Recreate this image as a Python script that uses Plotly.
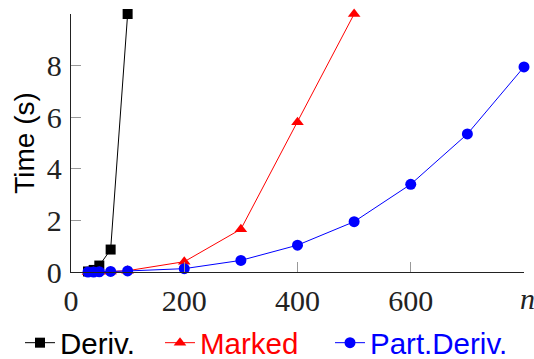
import plotly.graph_objects as go

# Data
n_deriv = [30, 40, 50, 70, 100]
t_deriv = [0.02, 0.08, 0.25, 0.87, 10.0]

n_marked = [30, 40, 50, 70, 100, 200, 300, 400, 500]
t_marked = [0.0, 0.0, 0.01, 0.02, 0.05, 0.40, 1.66, 5.8, 10.0]

n_part = [30, 40, 50, 70, 100, 200, 300, 400, 500, 600, 700, 800]
t_part = [0.0, 0.0, 0.01, 0.02, 0.04, 0.13, 0.45, 1.04, 1.95, 3.4, 5.35, 7.95]

x_ticks = [0, 200, 400, 600]
y_ticks = [0, 2, 4, 6, 8]

W, H = 534, 359
ML, MR, MT, MB = 71, 10, 14, 87
PW, PH = W - ML - MR, H - MT - MB
SERIF = "Liberation Serif"
SANS = "Liberation Sans"

fig = go.Figure()
fig.add_trace(go.Scatter(
    x=n_deriv, y=t_deriv, name="Deriv.", mode="lines+markers",
    line=dict(color="black", width=1),
    marker=dict(symbol="square", size=10, color="black"),
    legend="legend", showlegend=True, cliponaxis=False))
fig.add_trace(go.Scatter(
    x=n_marked, y=t_marked, name="Marked", mode="lines+markers",
    line=dict(color="#ff0000", width=1),
    marker=dict(symbol="triangle-up", size=11, color="#ff0000"),
    legend="legend2", showlegend=True, cliponaxis=False))
fig.add_trace(go.Scatter(
    x=n_part, y=t_part, name="Part.Deriv.", mode="lines+markers",
    line=dict(color="#0000ff", width=1),
    marker=dict(symbol="circle", size=11, color="#0000ff"),
    legend="legend3", showlegend=True, cliponaxis=False))

axis_common = dict(
    showgrid=False, zeroline=False, showline=True,
    linecolor="#222222", linewidth=1.3,
    ticks="inside", ticklen=10, tickwidth=1, tickcolor="#999999",
    tickfont=dict(family=SERIF, size=30, color="#222222"),
)

fig.update_xaxes(range=[0, 800], tickvals=x_ticks, ticktext=[str(v) for v in x_ticks],
                 ticklabelstandoff=2, **axis_common)
fig.update_yaxes(range=[0, 10], tickvals=y_ticks, ticktext=[str(v) for v in y_ticks],
                 ticklabelstandoff=2,
                 title=dict(text="Time (s)", font=dict(family=SANS, size=28, color="black"),
                            standoff=4),
                 **axis_common)

def leg(xpx, color):
    return dict(visible=True, orientation="h", xref="container", yref="container",
                x=xpx / W, y=1 - 343 / H, xanchor="left", yanchor="middle",
                bgcolor="rgba(0,0,0,0)", borderwidth=0,
                font=dict(family=SANS, size=29.5, color=color))

fig.update_layout(
    width=W, height=H,
    showlegend=True,
    margin=dict(l=ML, r=MR, t=MT, b=MB, autoexpand=False),
    paper_bgcolor="white", plot_bgcolor="white",
    legend=leg(20, "black"), legend2=leg(160, "#ff0000"), legend3=leg(330, "#0000ff"),
    annotations=[dict(text="<i>n</i>", xref="paper", yref="paper",
                      x=(527 - ML) / PW, y=(H - MB - 298) / PH,
                      xanchor="center", yanchor="middle",
                      showarrow=False, font=dict(family=SERIF, size=30, color="#222222"))],
)

fig.write_html("out.html", config={"displayModeBar": False},
               post_script="document.body.style.margin='0';document.body.style.overflow='hidden';")
